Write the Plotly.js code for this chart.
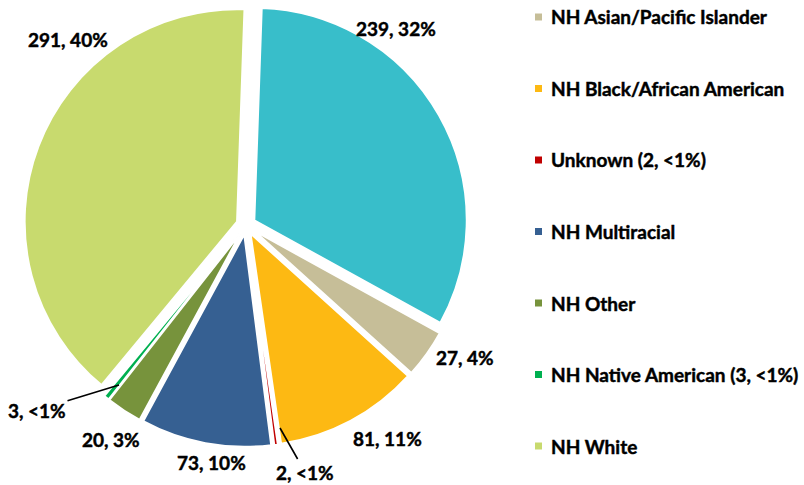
<!DOCTYPE html>
<html><head><meta charset="utf-8">
<script src="https://cdn.plot.ly/plotly-3.0.1.min.js"></script>
<style>
html,body{margin:0;padding:0;background:#fff}
#chart{width:804px;height:485px}
#chart .annotation-text{stroke:#000;stroke-width:0.45px;paint-order:stroke}
</style>
</head><body><div id="chart"></div>
<script>
// ---- data ----
const categories = ["Hispanic", "NH Asian/Pacific Islander", "NH Black/African American", "Unknown", "NH Multiracial", "NH Other", "NH Native American", "NH White"];
const counts = [239, 27, 81, 2, 73, 20, 3, 291];
const legendLabels = ["Hispanic", "NH Asian/Pacific Islander", "NH Black/African American", "Unknown (2, &lt;1%)", "NH Multiracial", "NH Other", "NH Native American (3, &lt;1%)", "NH White"];
const colors = ["#38BECA", "#C6BE98", "#FDB913", "#C00000", "#366092", "#77933C", "#00B050", "#C8DA6E"];

// ---- layout / style ----
const W = 804, H = 485;
const FONT = "Lato, 'Open Sans', sans-serif";
const labelPx = [[396, 28], [465, 357], [387, 438], [305, 472], [211, 462], [111, 439], [37, 410], [68, 39]];
const arrowTipPx = {3: [280, 428], 6: [119, 385]};
const legendStartY = 17, legendStep = 71.5, legendTextX = 549, swatchX0 = 535, swatchSize = 7;

const total = counts.reduce((a, b) => a + b, 0);
function pctText(v) {
  const p = v / total * 100;
  return p < 1 ? "&lt;1%" : Math.round(p) + "%";
}
const px2x = x => x / W, px2y = y => 1 - y / H;
const labelFont = {family: FONT, size: 19, color: "#000", weight: "bold"};

const annotations = [];
counts.forEach((v, i) => {
  const txt = v + ", " + pctText(v);
  const [lx, ly] = labelPx[i];
  if (arrowTipPx[i]) {
    const [tx, ty] = arrowTipPx[i];
    annotations.push({xref: "paper", yref: "paper", x: px2x(tx), y: px2y(ty), ax: lx - tx, ay: ly - ty,
      showarrow: true, arrowhead: 0, arrowwidth: 1.6, arrowcolor: "#000", text: txt, font: labelFont});
  } else {
    annotations.push({xref: "paper", yref: "paper", x: px2x(lx), y: px2y(ly), xanchor: "center", yanchor: "middle",
      showarrow: false, text: txt, font: labelFont});
  }
});

const shapes = [];
for (let i = 1; i < categories.length; i++) {
  const cy = legendStartY + (i - 1) * legendStep;
  annotations.push({xref: "paper", yref: "paper", x: px2x(legendTextX), y: px2y(cy), xanchor: "left", yanchor: "middle",
    showarrow: false, text: legendLabels[i], font: labelFont});
  shapes.push({type: "rect", xref: "paper", yref: "paper", x0: px2x(swatchX0), x1: px2x(swatchX0 + swatchSize),
    y0: px2y(cy + swatchSize / 2), y1: px2y(cy - swatchSize / 2), fillcolor: colors[i], line: {width: 0}});
}

const trace = {
  type: "pie", labels: categories, values: counts, sort: false, direction: "clockwise", rotation: 2,
  pull: counts.map(() => 0.045), marker: {colors: colors, line: {width: 2, color: "#fff"}},
  textinfo: "none", hoverinfo: "label+value+percent", showlegend: false,
  domain: {x: [24 / W, 468 / W], y: [1 - 447 / H, 1 - 3 / H]}
};

Plotly.newPlot("chart", [trace], {
  width: W, height: H, margin: {l: 0, r: 0, t: 0, b: 0}, showlegend: false,
  paper_bgcolor: "#fff", plot_bgcolor: "#fff", annotations: annotations, shapes: shapes
}, {displayModeBar: false, staticPlot: true});
</script></body></html>
